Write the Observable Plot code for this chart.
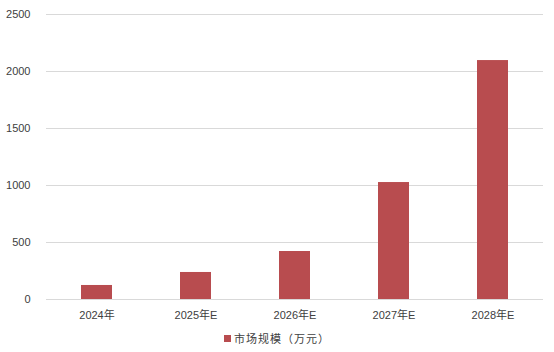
<!DOCTYPE html>
<html>
<head>
<meta charset="utf-8">
<script src="https://cdn.jsdelivr.net/npm/d3@7"></script>
<script src="https://cdn.jsdelivr.net/npm/@observablehq/plot@0.6"></script>
<style>
  body { margin: 0; background: #fff; font-family: "Liberation Sans", "Noto Sans CJK SC", sans-serif; }
  #chart { width: 554px; }
  .legend { display: flex; justify-content: center; align-items: center; font-size: 11px; color: #404040; height: 24px; margin-left: 0px; letter-spacing: 1px; }
  .legend .sw { width: 7px; height: 7px; background: #b84c4f; margin-right: 3px; }
</style>
</head>
<body>
<div id="chart"></div>
<script>
// Market size by year (ten-thousand yuan); E = estimate
const years = ["2024年", "2025年E", "2026年E", "2027年E", "2028年E"];
const marketSize = [123, 237, 421, 1026, 2096];
const yTicks = [0, 500, 1000, 1500, 2000, 2500];
const seriesName = "市场规模（万元）";

const rows = years.map((year, i) => ({year, value: marketSize[i]}));

const chart = Plot.plot({
  width: 554,
  height: 326,
  marginLeft: 46,
  marginRight: 11,
  marginTop: 14,
  marginBottom: 27,
  style: {fontFamily: "'Liberation Sans', 'Noto Sans CJK SC', sans-serif", fontSize: "11px", color: "#404040"},
  x: {domain: years, paddingInner: 0.69, paddingOuter: 0.345, label: null},
  y: {domain: [0, 2500], ticks: yTicks, label: null},
  marks: [
    Plot.ruleY(yTicks, {stroke: "#d9d9d9", strokeWidth: 1}),
    Plot.barY(rows, {x: "year", y: "value", fill: "#b84c4f"}),
    Plot.axisX({tickSize: 0, tickPadding: 12, label: null, fill: "#404040"}),
    Plot.axisY({ticks: yTicks, tickFormat: d3.format("d"), tickSize: 0, tickPadding: 16, label: null, fill: "#404040"})
  ]
});
document.getElementById("chart").appendChild(chart);

const legend = document.createElement("div");
legend.className = "legend";
legend.innerHTML = `<span class="sw"></span><span>${seriesName}</span>`;
document.getElementById("chart").appendChild(legend);
</script>
</body>
</html>
